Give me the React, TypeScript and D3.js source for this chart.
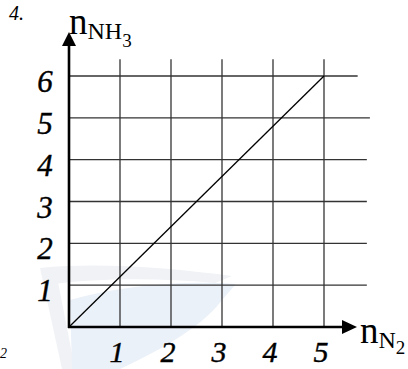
import React from 'react';
import * as d3 from 'd3';

// values
const xTicks = [1, 2, 3, 4, 5];
const yTicks = [1, 2, 3, 4, 5, 6];
const linePoints: [number, number][] = [[0, 0], [5, 6]];
// how far each horizontal grid line runs to the right (in x units)
const hGridEnd = [5.84, 5.84, 5.84, 5.84, 5.9, 5.66];

const W = 408;
const H = 369;

export default function App() {
  const x = d3.scaleLinear().domain([0, 5]).range([69, 324]);
  const y = d3.scaleLinear().domain([0, 6]).range([327, 76]);
  const line = d3.line<[number, number]>()
    .x(d => x(d[0]))
    .y(d => y(d[1]));

  const serif = 'Liberation Serif';
  const gridTop = y(6.4);

  return (
    <svg width={W} height={H} style={{ position: 'absolute', left: 0, top: 0, background: '#fff' }}>
      {/* faint watermark */}
      <path d="M40,268 C100,262 170,268 232,276 L215,283 C160,278 100,278 55,284 Z" fill="#f0f2f5" />
      <path d="M40,268 L62,369 L75,369 L58,282 Z" fill="#f0f2f5" />
      <path d="M70,300 C120,285 190,280 236,284 L222,300 C200,330 150,355 120,369 L72,369 Z" fill="#ebf1f9" />

      {/* vertical grid */}
      {xTicks.map(t => (
        <line key={'vx' + t} x1={x(t)} x2={x(t)} y1={y(0)} y2={gridTop} stroke="#333" strokeWidth={1.3} />
      ))}
      {/* horizontal grid */}
      {yTicks.map((t, i) => (
        <line key={'hy' + t} x1={x(0)} x2={x(hGridEnd[i])} y1={y(t)} y2={y(t)} stroke="#333" strokeWidth={1.3} />
      ))}

      <path d={line(linePoints) || ''} fill="none" stroke="#000" strokeWidth={1.3} />

      {/* axes */}
      <line x1={x(0)} x2={x(0)} y1={y(0) + 1} y2={42} stroke="#000" strokeWidth={2.6} />
      <path d={`M${x(0)},32 L${x(0) - 7},46 L${x(0) + 7},46 Z`} fill="#000" />
      <line x1={x(0) - 1} x2={345} y1={y(0)} y2={y(0)} stroke="#000" strokeWidth={2.6} />
      <path d={`M357,${y(0)} L342,${y(0) - 7} L342,${y(0) + 7} Z`} fill="#000" />

      {/* tick labels */}
      {yTicks.map(t => (
        <text key={'ly' + t} x={45} y={y(t) + 16} fontFamily={serif} fontStyle="italic" fontSize={31}
          textAnchor="middle" stroke="#000" strokeWidth={0.4}>{t}</text>
      ))}
      {xTicks.map(t => (
        <text key={'lx' + t} x={x(t) - 3} y={362} fontFamily={serif} fontStyle="italic" fontSize={30}
          textAnchor="middle" stroke="#000" strokeWidth={0.4}>{t}</text>
      ))}

      {/* axis titles */}
      <text x={69} y={34} fontFamily={serif} fontSize={37}>
        n<tspan fontSize={24} dy={5}>NH</tspan><tspan fontSize={19} dy={8}>3</tspan>
      </text>
      <text x={360} y={343} fontFamily={serif} fontSize={37}>
        n<tspan fontSize={24} dy={5}>N</tspan><tspan fontSize={19} dy={6}>2</tspan>
      </text>

      <text x={9} y={20} fontFamily={serif} fontStyle="italic" fontSize={20}>4.</text>
      <text x={0} y={358} fontFamily={serif} fontStyle="italic" fontSize={14}>2</text>
    </svg>
  );
}
